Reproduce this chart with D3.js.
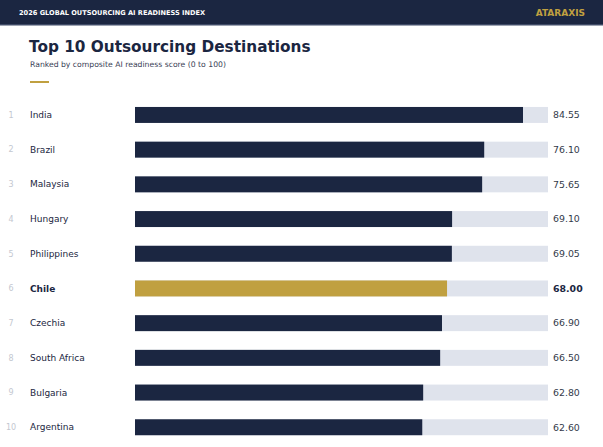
<!DOCTYPE html>
<html>
<head>
<meta charset="utf-8">
<script src="https://cdn.jsdelivr.net/npm/d3@7"></script>
<style>
  html, body { margin: 0; padding: 0; background: #fff; }
  svg { display: block; font-family: "DejaVu Sans", Verdana, sans-serif; }
</style>
</head>
<body>
<svg id="chart" width="603" height="447"></svg>
<script>
// data
const countries = ["India", "Brazil", "Malaysia", "Hungary", "Philippines", "Chile", "Czechia", "South Africa", "Bulgaria", "Argentina"];
const scores = [84.55, 76.10, 75.65, 69.10, 69.05, 68.00, 66.90, 66.50, 62.80, 62.60];
const highlight = "Chile";

const navy = "#1b2641", gold = "#c0a040", track = "#dfe3ec";

const svg = d3.select("#chart"),
    width = +svg.attr("width");

const data = countries.map((c, i) => ({ rank: i + 1, country: c, score: scores[i] }));

// header band
svg.append("rect").attr("x", 0).attr("y", 0).attr("width", width).attr("height", 24).attr("fill", navy);
svg.append("rect").attr("x", 0).attr("y", 24).attr("width", width).attr("height", 1.5).attr("fill", "#3e4a66");
svg.append("text").attr("x", 19).attr("y", 15.3)
    .attr("fill", "#fff").attr("font-size", 6.6).attr("font-weight", "bold")
    .text("2026 GLOBAL OUTSOURCING AI READINESS INDEX");
svg.append("text").attr("x", 585).attr("y", 16).attr("text-anchor", "end")
    .attr("fill", gold).attr("font-size", 9).attr("font-weight", "bold")
    .text("ATARAXIS");

// titles
svg.append("text").attr("x", 29).attr("y", 52)
    .attr("fill", navy).attr("font-size", 15.3).attr("font-weight", "bold")
    .text("Top 10 Outsourcing Destinations");
svg.append("text").attr("x", 30).attr("y", 67.3)
    .attr("fill", "#3a4256").attr("font-size", 7.7)
    .text("Ranked by composite AI readiness score (0 to 100)");
svg.append("rect").attr("x", 30).attr("y", 81).attr("width", 19).attr("height", 2).attr("fill", gold);

// scales
const x = d3.scaleLinear().domain([0, 90]).range([135, 548]);
const y = d3.scaleBand()
    .domain(countries)
    .range([97.6, 444.6])
    .paddingInner(0.54)
    .paddingOuter(0.27);

const rows = svg.append("g").selectAll("g")
    .data(data)
    .enter()
    .append("g")
    .attr("transform", d => "translate(0," + y(d.country) + ")");

const bh = y.bandwidth();

rows.append("rect")
    .attr("x", x(0)).attr("y", 0)
    .attr("width", x(90) - x(0)).attr("height", bh)
    .attr("fill", track);

rows.append("rect")
    .attr("x", x(0)).attr("y", 0)
    .attr("width", d => x(d.score) - x(0)).attr("height", bh)
    .attr("fill", d => d.country === highlight ? gold : navy);

rows.append("text")
    .attr("x", 11).attr("y", bh / 2).attr("dy", "0.35em")
    .attr("text-anchor", "middle")
    .attr("fill", "#c3c7d0").attr("font-size", 8)
    .text(d => d.rank);

rows.append("text")
    .attr("x", 30).attr("y", bh / 2).attr("dy", "0.35em")
    .attr("fill", navy).attr("font-size", 9)
    .attr("font-weight", d => d.country === highlight ? "bold" : "normal")
    .text(d => d.country);

rows.append("text")
    .attr("x", 553).attr("y", bh / 2).attr("dy", "0.35em")
    .attr("fill", d => d.country === highlight ? navy : "#333a4a").attr("font-size", 9.4)
    .attr("font-weight", d => d.country === highlight ? "bold" : "normal")
    .text(d => d.score.toFixed(2));
</script>
</body>
</html>
